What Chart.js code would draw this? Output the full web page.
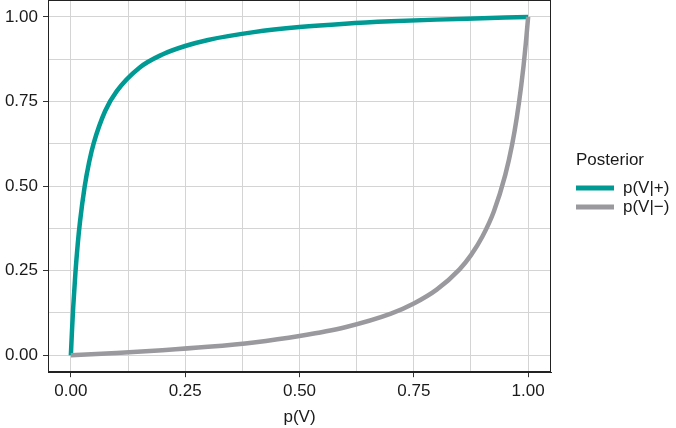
<!DOCTYPE html>
<html>
<head>
<meta charset="utf-8">
<script src="https://cdn.jsdelivr.net/npm/chart.js@4"></script>
<style>
  html, body { margin: 0; padding: 0; background: #fff; }
  #wrap { width: 676px; height: 428px; }
</style>
</head>
<body>
<div id="wrap"><canvas id="posteriorChart" width="676" height="428"></canvas></div>
<script>
// prior p(V) and posterior
var priorPos = [0, 0.0025, 0.005, 0.01, 0.015, 0.02, 0.03, 0.04, 0.05, 0.075, 0.1, 0.15, 0.2, 0.25, 0.3, 0.4, 0.5, 0.6, 0.7, 0.8, 0.9, 1];
var postPos = [0, 0.074, 0.139, 0.244, 0.328, 0.395, 0.497, 0.571, 0.627, 0.722, 0.780, 0.850, 0.889, 0.914, 0.932, 0.955, 0.970, 0.980, 0.987, 0.992, 0.996, 1];

var priorNeg = [0, 0.1, 0.2, 0.3, 0.4, 0.5, 0.6, 0.7, 0.75, 0.8, 0.85, 0.875, 0.9, 0.925, 0.95, 0.965, 0.975, 0.985, 0.99, 0.995, 1];
var postNeg = [0, 0.007, 0.015, 0.025, 0.038, 0.057, 0.083, 0.123, 0.153, 0.194, 0.254, 0.296, 0.351, 0.425, 0.533, 0.623, 0.701, 0.798, 0.856, 0.923, 1];

var seriesLabels = ['p(V|+)', 'p(V|\u2212)'];
var legendTitle = 'Posterior';
var axisTicks = [0, 0.125, 0.25, 0.375, 0.5, 0.625, 0.75, 0.875, 1];
var majorTicks = [0, 0.25, 0.5, 0.75, 1];

var teal = '#009a94';
var grey = '#9a9a9e';
var FONT = '"Liberation Sans", Arial, Helvetica, sans-serif';

function isMajor(v) {
    return majorTicks.indexOf(v) !== -1;
}

function toPoints(xs, ys) {
    return xs.map((x, i) => ({ x: x, y: ys[i] }));
}

var panelBox = {
    id: 'panelBox',
    afterDraw(chart) {
        var a = chart.chartArea, c = chart.ctx;
        c.save();
        c.strokeStyle = '#222';
        c.lineWidth = 1;
        c.strokeRect(Math.round(a.left) + 0.5, Math.round(a.top) + 0.5,
            Math.round(a.right - a.left) - 1, Math.round(a.bottom - a.top) - 1);
        c.restore();
    }
};

var sideLegend = {
    id: 'sideLegend',
    afterDraw(chart) {
        var c = chart.ctx;
        var x0 = chart.chartArea.right + 25;
        c.save();
        c.fillStyle = '#1a1a1a';
        c.textBaseline = 'middle';
        c.font = '17px ' + FONT;
        c.fillText(legendTitle, x0, 160);
        var colors = [teal, grey];
        seriesLabels.forEach((lab, i) => {
            var y = 188 + i * 19;
            c.strokeStyle = colors[i];
            c.lineWidth = 5;
            c.beginPath();
            c.moveTo(x0, y);
            c.lineTo(x0 + 38, y);
            c.stroke();
            c.fillText(lab, x0 + 47, y);
        });
        c.restore();
    }
};

var axisCommon = {
    type: 'linear',
    min: -0.05,
    max: 1.05,
    afterBuildTicks: scale => {
        scale.ticks = axisTicks.map(v => ({ value: v }));
    },
    grid: {
        color: '#d4d4d4',
        lineWidth: 1,
        drawTicks: true,
        tickLength: 5,
        tickColor: ctx => isMajor(ctx.tick.value) ? '#333' : 'rgba(0,0,0,0)'
    },
    border: { display: true, color: '#222' }
};

var ctx1 = document.getElementById('posteriorChart').getContext('2d');
var posteriorChart = new Chart(ctx1, {
    type: 'line',
    data: {
        datasets: [{
            label: seriesLabels[0],
            data: toPoints(priorPos, postPos),
            borderColor: teal,
            backgroundColor: teal,
            borderWidth: 4.5,
            pointRadius: 0,
            cubicInterpolationMode: 'monotone',
            order: 2
        }, {
            label: seriesLabels[1],
            data: toPoints(priorNeg, postNeg),
            borderColor: grey,
            backgroundColor: grey,
            borderWidth: 4.5,
            pointRadius: 0,
            cubicInterpolationMode: 'monotone',
            order: 1
        }]
    },
    options: {
        responsive: false,
        animation: false,
        layout: { padding: { top: 0, right: 125, left: 0, bottom: 0 } },
        scales: {
            x: Object.assign({}, axisCommon, {
                afterFit: scale => { scale.paddingLeft = 0; scale.paddingRight = 0; },
                ticks: {
                    color: '#1a1a1a',
                    font: { family: FONT, size: 17 },
                    padding: 4,
                    maxRotation: 0,
                    autoSkip: false,
                    callback: v => isMajor(v) ? v.toFixed(2) : ''
                },
                title: {
                    display: true,
                    text: 'p(V)',
                    color: '#1a1a1a',
                    font: { family: FONT, size: 17 },
                    padding: { top: 2, bottom: 0 }
                }
            }),
            y: Object.assign({}, axisCommon, {
                afterFit: scale => {
                    scale.width = 48;
                    scale.paddingTop = 0;
                    scale.paddingBottom = 0;
                },
                ticks: {
                    color: '#1a1a1a',
                    font: { family: FONT, size: 17 },
                    padding: 5,
                    autoSkip: false,
                    callback: v => isMajor(v) ? v.toFixed(2) : ''
                }
            })
        },
        plugins: {
            legend: { display: false },
            tooltip: { enabled: false }
        }
    },
    plugins: [panelBox, sideLegend]
});
</script>
</body>
</html>
